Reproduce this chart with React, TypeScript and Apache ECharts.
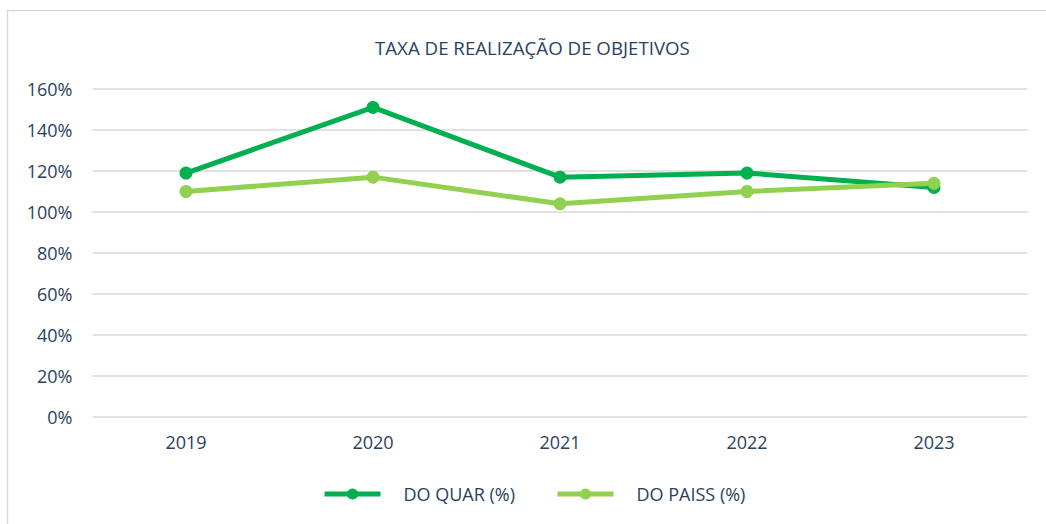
import React, { useEffect, useRef } from "react";
import * as echarts from "echarts";

const title = "TAXA DE REALIZAÇÃO DE OBJETIVOS";
const years = ["2019", "2020", "2021", "2022", "2023"];
const quar = [119, 151, 117, 119, 112];
const paiss = [110, 117, 104, 110, 114];
const seriesNames = ["DO QUAR (%)", "DO PAISS (%)"];
const colors = ["#00B050", "#92D050"];
const textColor = "#2B3F60";
const font = "Open Sans";

export default function App() {
  const ref = useRef<HTMLDivElement>(null);
  useEffect(() => {
    if (!ref.current) return;
    const chart = echarts.init(ref.current, undefined, { renderer: "svg" });
    chart.setOption({
      animation: false,
      backgroundColor: "#ffffff",
      title: {
        text: title,
        left: 370,
        top: 33,
        textStyle: { color: textColor, fontSize: 18.7, fontWeight: "normal", fontFamily: font },
      },
      graphic: [
        {
          type: "rect",
          shape: { x: 7.5, y: 10.5, width: 1100, height: 600 },
          style: { fill: "none", stroke: "#D9D9D9", lineWidth: 1.5 },
          silent: true,
        },
      ],
      legend: {
        bottom: 16,
        left: 317,
        itemWidth: 56,
        itemHeight: 14,
        itemGap: 40,
        lineStyle: { width: 5 },
        textStyle: { color: textColor, fontSize: 18, fontFamily: font, padding: [0, 0, 0, 18] },
        data: seriesNames,
      },
      grid: { left: 92.5, right: 18.5, top: 89, bottom: 107, containLabel: false },
      xAxis: {
        type: "category",
        data: years,
        boundaryGap: true,
        axisLine: { show: false },
        axisTick: { show: false },
        axisLabel: { color: textColor, fontSize: 18, fontFamily: font, margin: 16 },
      },
      yAxis: {
        type: "value",
        min: 0,
        max: 160,
        interval: 20,
        axisLine: { show: false },
        axisTick: { show: false },
        axisLabel: { color: textColor, fontSize: 18, fontFamily: font, formatter: "{value}%", margin: 20 },
        splitLine: { lineStyle: { color: "#D9D9D9", width: 1.5 } },
      },
      series: [
        {
          name: seriesNames[0],
          type: "line",
          data: quar,
          symbol: "circle",
          symbolSize: 13,
          lineStyle: { width: 5, color: colors[0] },
          itemStyle: { color: colors[0] },
        },
        {
          name: seriesNames[1],
          type: "line",
          data: paiss,
          symbol: "circle",
          symbolSize: 13,
          lineStyle: { width: 5, color: colors[1] },
          itemStyle: { color: colors[1] },
        },
      ],
    });
    return () => chart.dispose();
  }, []);
  return (
    <div
      ref={ref}
      style={{ position: "fixed", left: 0, top: 0, width: 1046, height: 524 }}
    />
  );
}
